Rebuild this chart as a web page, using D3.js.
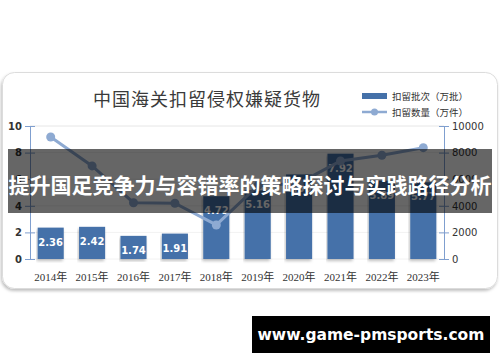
<!DOCTYPE html>
<html>
<head>
<meta charset="utf-8">
<script src="https://cdn.jsdelivr.net/npm/d3@7"></script>
<style>
  body { margin: 0; background: #fff; }
  svg { display: block; }
</style>
</head>
<body>
<div id="chart"></div>
<script>
// data
var years = ["2014年", "2015年", "2016年", "2017年", "2018年", "2019年", "2020年", "2021年", "2022年", "2023年"];
var batches = [2.36, 2.42, 1.74, 1.91, 4.72, 5.16, 6.36, 7.92, 5.89, 5.77];   // 扣留批次（万批）
var pieces = [9170, 7000, 4230, 4190, 2560, 5500, 5700, 7370, 7800, 8370];   // 扣留数量（万件）
var leftTicks = [0, 2, 4, 6, 8, 10];
var rightTicks = [0, 2000, 4000, 6000, 8000, 10000];

var svgWidth = 500;
var svgHeight = 362;

var margin = { top: 126, right: 56, bottom: 103, left: 30 };
var width = svgWidth - margin.left - margin.right;
var height = svgHeight - margin.top - margin.bottom;

var barColor = "#4571a9";
var lineColor = "#8eaad2";
var axisColor = "#7f9fcf";

var svg = d3.select("#chart")
  .append("svg")
  .attr("width", svgWidth)
  .attr("height", svgHeight);

var defs = svg.append("defs");
var shadow = defs.append("filter").attr("id", "shadow")
  .attr("x", "-5%").attr("y", "-5%").attr("width", "110%").attr("height", "115%");
shadow.append("feDropShadow")
  .attr("dx", -1).attr("dy", 2).attr("stdDeviation", 1.5)
  .attr("flood-color", "#000").attr("flood-opacity", 0.25);

// card behind the chart
svg.append("rect")
  .attr("x", 2.5).attr("y", 72.5)
  .attr("width", 495).attr("height", 216)
  .attr("rx", 12)
  .attr("fill", "#fff")
  .attr("stroke", "#dcdcdc")
  .attr("filter", "url(#shadow)");

// title
svg.append("text")
  .attr("x", 207).attr("y", 106)
  .attr("text-anchor", "middle")
  .attr("font-family", "'Noto Sans CJK SC', sans-serif")
  .attr("font-size", 18)
  .attr("letter-spacing", 1)
  .attr("fill", "#3a3a3a")
  .text("中国海关扣留侵权嫌疑货物");

// legend
var legend = svg.append("g").attr("transform", "translate(362, 96)");
legend.append("rect")
  .attr("x", 0).attr("y", -3).attr("width", 25).attr("height", 6)
  .attr("fill", barColor);
legend.append("text")
  .attr("x", 30).attr("y", 3.5)
  .attr("font-family", "'Noto Sans CJK SC', sans-serif")
  .attr("font-size", 9.5).attr("fill", "#333")
  .text("扣留批次（万批）");
legend.append("line")
  .attr("x1", 0).attr("x2", 25).attr("y1", 16).attr("y2", 16)
  .attr("stroke", lineColor).attr("stroke-width", 2.5);
legend.append("circle")
  .attr("cx", 12.5).attr("cy", 16).attr("r", 3.5)
  .attr("fill", lineColor);
legend.append("text")
  .attr("x", 30).attr("y", 19.5)
  .attr("font-family", "'Noto Sans CJK SC', sans-serif")
  .attr("font-size", 9.5).attr("fill", "#333")
  .text("扣留数量（万件）");

var chartGroup = svg.append("g")
  .attr("transform", `translate(${margin.left}, ${margin.top})`);

// scales
var xScale = d3.scaleBand()
  .domain(years)
  .range([0, width])
  .paddingInner(0.37)
  .paddingOuter(0.185);

var yLeft = d3.scaleLinear().domain([0, 10]).range([height, 0]);
var yRight = d3.scaleLinear().domain([0, 10000]).range([height, 0]);

// gridlines
chartGroup.append("g")
  .selectAll("line")
  .data(leftTicks)
  .enter()
  .append("line")
  .attr("x1", 0).attr("x2", width)
  .attr("y1", d => yLeft(d)).attr("y2", d => yLeft(d))
  .attr("stroke", d => d === 10 ? "#e6e6e6" : "#f2f2f2");

// bars
chartGroup.append("g")
  .selectAll("rect")
  .data(batches)
  .enter()
  .append("rect")
  .attr("x", (d, i) => xScale(years[i]))
  .attr("y", d => yLeft(d))
  .attr("width", xScale.bandwidth())
  .attr("height", d => height - yLeft(d))
  .attr("fill", barColor)
  .attr("filter", "url(#shadow)");

// bar labels
chartGroup.append("g")
  .selectAll("text")
  .data(batches)
  .enter()
  .append("text")
  .attr("x", (d, i) => xScale(years[i]) + xScale.bandwidth() / 2)
  .attr("y", d => yLeft(d) + 18)
  .attr("text-anchor", "middle")
  .attr("font-family", "'DejaVu Sans', sans-serif")
  .attr("font-weight", "bold")
  .attr("font-size", 10)
  .attr("fill", "#fff")
  .text(d => d.toFixed(2));

// line
var line = d3.line()
  .x((d, i) => xScale(years[i]) + xScale.bandwidth() / 2)
  .y(d => yRight(d));

chartGroup.append("path")
  .datum(pieces)
  .attr("d", line)
  .attr("fill", "none")
  .attr("stroke", lineColor)
  .attr("stroke-width", 3);

chartGroup.append("g")
  .selectAll("circle")
  .data(pieces)
  .enter()
  .append("circle")
  .attr("cx", (d, i) => xScale(years[i]) + xScale.bandwidth() / 2)
  .attr("cy", d => yRight(d))
  .attr("r", 4.5)
  .attr("fill", lineColor);

// axes
var leftAxis = d3.axisLeft(yLeft).tickValues(leftTicks).tickSizeInner(5).tickSizeOuter(0);
var rightAxis = d3.axisRight(yRight).tickValues(rightTicks)
  .tickFormat(d3.format("d"))
  .tickSizeInner(5).tickSizeOuter(0);
var bottomAxis = d3.axisBottom(xScale).tickSize(0);

var gLeft = chartGroup.append("g").call(leftAxis);
gLeft.selectAll(".tick line").attr("x1", 5).attr("x2", -5);
gLeft.selectAll("text").attr("x", -8);

var gRight = chartGroup.append("g")
  .attr("transform", `translate(${width}, 0)`)
  .call(rightAxis);
gRight.selectAll(".tick line").attr("x1", -5).attr("x2", 5);
gRight.selectAll("text").attr("x", 8);

[gLeft, gRight].forEach(function(g) {
  g.select(".domain").attr("stroke", axisColor);
  g.selectAll(".tick line").attr("stroke", axisColor);
  g.selectAll("text")
    .attr("font-family", "'DejaVu Sans', sans-serif")
    .attr("font-size", 10)
    .attr("fill", "#333");
});
gLeft.selectAll("text").attr("font-weight", "bold");

var gBottom = chartGroup.append("g")
  .attr("transform", `translate(0, ${height})`)
  .call(bottomAxis);
gBottom.select(".domain").remove();
gBottom.selectAll("text")
  .attr("y", 14)
  .attr("font-family", "'Liberation Serif', 'Noto Sans CJK SC', serif")
  .attr("font-size", 11)
  .attr("fill", "#333");

// dark banner across the chart
svg.append("rect")
  .attr("x", 8).attr("y", 149)
  .attr("width", 484).attr("height", 64)
  .attr("fill", "#000")
  .attr("fill-opacity", 0.6);

svg.append("text")
  .attr("x", 250).attr("y", 193)
  .attr("text-anchor", "middle")
  .attr("font-family", "'Noto Sans CJK SC', sans-serif")
  .attr("font-weight", "bold")
  .attr("font-size", 21)
  .attr("fill", "#fff")
  .text("提升国足竞争力与容错率的策略探讨与实践路径分析");

// site badge
svg.append("rect")
  .attr("x", 252).attr("y", 316)
  .attr("width", 238).attr("height", 37)
  .attr("fill", "#000");

svg.append("text")
  .attr("x", 371).attr("y", 340)
  .attr("text-anchor", "middle")
  .attr("font-family", "'DejaVu Sans', sans-serif")
  .attr("font-weight", "bold")
  .attr("font-size", 15.5)
  .attr("fill", "#fff")
  .text("www.game-pmsports.com");
</script>
</body>
</html>
